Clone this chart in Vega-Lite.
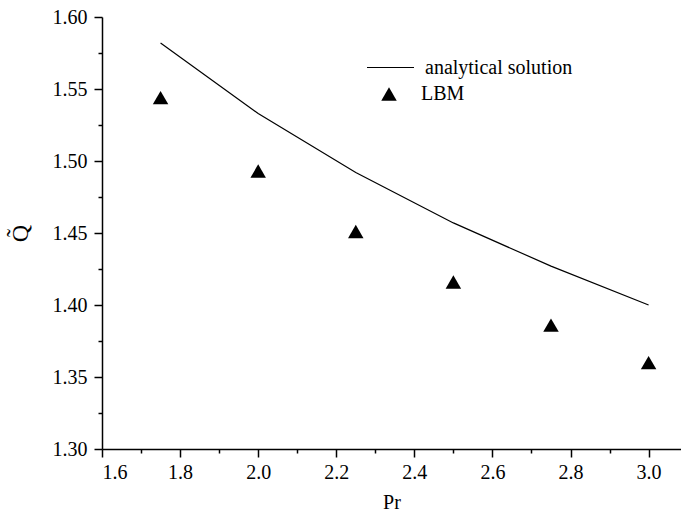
{
  "$schema": "https://vega.github.io/schema/vega-lite/v6.json",
  "autosize": {"type": "none"},
  "padding": {"left": 102, "top": 17, "right": 0, "bottom": 63},
  "width": 579,
  "height": 432,
  "background": "white",
  "config": {
    "view": {"stroke": null},
    "font": "Liberation Serif",
    "axis": {"grid": false, "domainColor": "black", "tickColor": "black", "labelColor": "black", "titleColor": "black", "labelFont": "Liberation Serif", "titleFont": "Liberation Serif", "labelFontSize": 20, "titleFontSize": 20, "titleFontWeight": "normal", "domainWidth": 1.5, "tickWidth": 1.5}
  },
  "datasets": {
    "analytic": [
      {"Pr": 1.75, "Q": 1.582, "series": "analytical solution"},
      {"Pr": 2.0, "Q": 1.533, "series": "analytical solution"},
      {"Pr": 2.25, "Q": 1.492, "series": "analytical solution"},
      {"Pr": 2.5, "Q": 1.457, "series": "analytical solution"},
      {"Pr": 2.75, "Q": 1.427, "series": "analytical solution"},
      {"Pr": 3.0, "Q": 1.400, "series": "analytical solution"}
    ],
    "lbm": [
      {"Pr": 1.75, "Q": 1.544, "series": "LBM"},
      {"Pr": 2.0, "Q": 1.493, "series": "LBM"},
      {"Pr": 2.25, "Q": 1.451, "series": "LBM"},
      {"Pr": 2.5, "Q": 1.416, "series": "LBM"},
      {"Pr": 2.75, "Q": 1.386, "series": "LBM"},
      {"Pr": 3.0, "Q": 1.360, "series": "LBM"}
    ]
  },
  "layer": [
    {
      "data": {"name": "analytic"},
      "mark": {"type": "line", "strokeWidth": 1.2, "clip": false},
      "encoding": {
        "x": {"field": "Pr", "type": "quantitative", "scale": {"domain": [1.6, 3.083], "nice": false, "zero": false},
              "axis": {"title": "Pr", "values": [1.6, 1.8, 2.0, 2.2, 2.4, 2.6, 2.8, 3.0], "format": ".1f", "tickSize": 8, "labelPadding": 5, "titlePadding": 10, "orient": "bottom", "labelFont": "Liberation Serif", "titleFont": "Liberation Serif"}},
        "y": {"field": "Q", "type": "quantitative", "scale": {"domain": [1.3, 1.6], "nice": false, "zero": false},
              "axis": {"title": "Q̃", "values": [1.3, 1.35, 1.4, 1.45, 1.5, 1.55, 1.6], "format": ".2f", "tickSize": 8, "labelPadding": 7, "titleFontSize": 24, "titlePadding": 20, "orient": "left", "labelFont": "Liberation Serif", "titleFont": "Liberation Serif"}},
        "color": {"field": "series", "type": "nominal", "scale": {"range": ["black"]},
                  "legend": {"orient": "none", "legendX": 264, "legendY": 26, "title": null, "symbolType": "stroke", "symbolSize": 2209, "symbolStrokeWidth": 1.2, "labelFontSize": 20, "labelFont": "Liberation Serif", "labelColor": "black", "labelOffset": 10, "symbolStrokeColor": "black"}}
      }
    },
    {
      "data": {"name": "lbm"},
      "mark": {"type": "point", "filled": true, "size": 240, "color": "black", "opacity": 1},
      "encoding": {
        "x": {"field": "Pr", "type": "quantitative",
              "axis": {"title": null, "values": [1.7, 1.9, 2.1, 2.3, 2.5, 2.7, 2.9, 3.1], "labels": false, "domain": false, "tickSize": 4, "orient": "bottom"}},
        "y": {"field": "Q", "type": "quantitative",
              "axis": {"title": null, "values": [1.325, 1.375, 1.425, 1.475, 1.525, 1.575], "labels": false, "domain": false, "tickSize": 4, "orient": "left"}},
        "shape": {"field": "series", "type": "nominal", "scale": {"range": ["triangle-up"]},
                  "legend": {"orient": "none", "legendX": 277, "legendY": 67, "title": null, "symbolSize": 240, "symbolFillColor": "black", "symbolStrokeColor": "black", "labelFontSize": 20, "labelFont": "Liberation Serif", "labelColor": "black", "labelOffset": 22}}
      }
    }
  ],
  "resolve": {"axis": {"x": "independent", "y": "independent"}, "legend": {"color": "independent", "shape": "independent"}}
}
